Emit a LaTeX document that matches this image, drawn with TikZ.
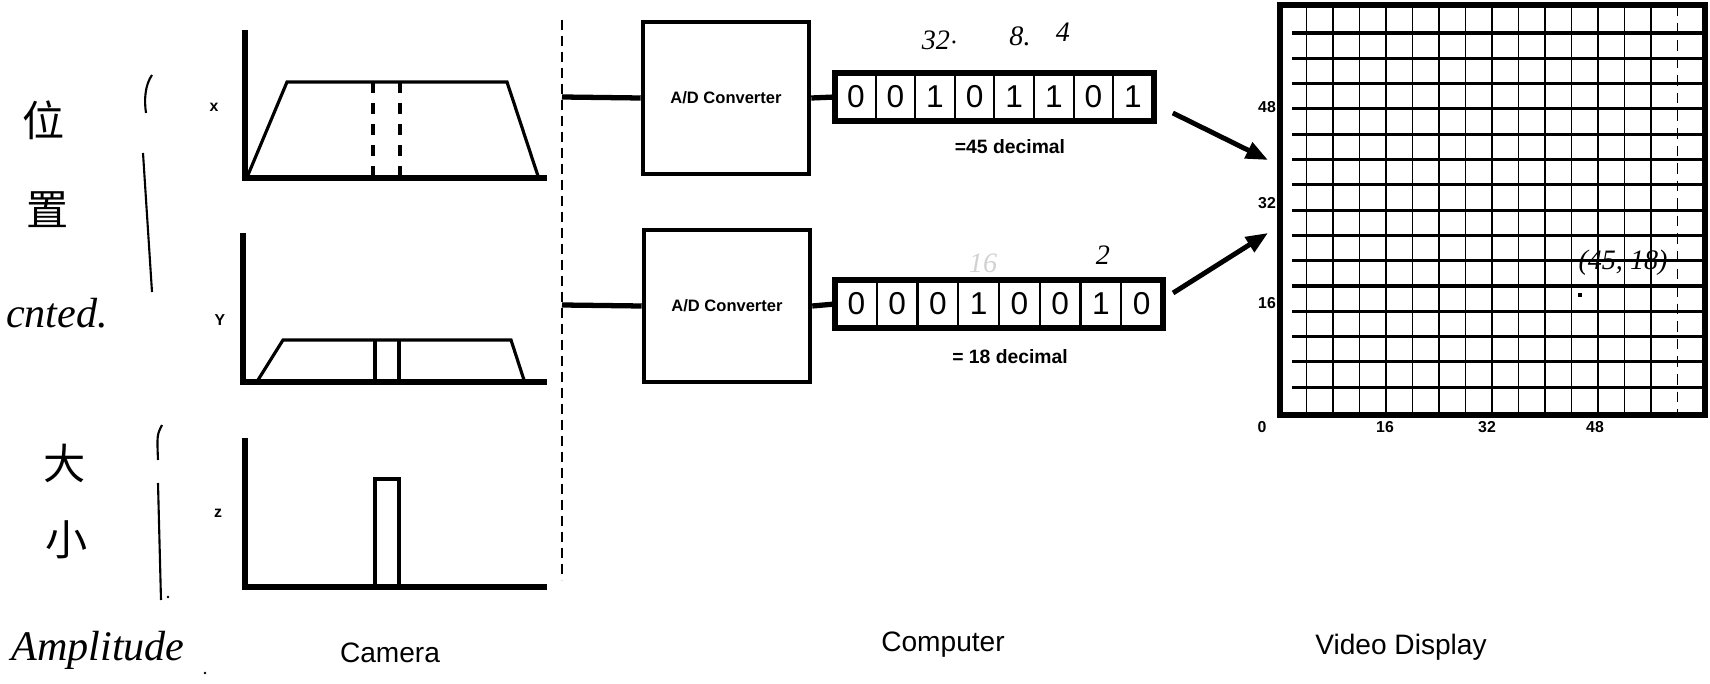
\documentclass[tikz,border=0pt]{standalone}
\usepackage{fontspec}
\setmainfont{Liberation Sans}
\newfontfamily\handfont{Liberation Serif}
\newfontfamily\cjk{Noto Sans CJK SC}
\usetikzlibrary{arrows.meta,positioning,calc}

\tikzset{
  axis/.style={line width=1.5pt},
  trace/.style={line width=0.9pt},
  adbox/.style={draw,line width=1.3pt,minimum width=16.6mm,minimum height=15.2mm,inner sep=0pt,
    font=\bfseries\fontsize{4.7}{5}\selectfont},
  bitcell/.style={draw,line width=0.6pt,minimum height=4.6mm,inner sep=0pt,font=\fontsize{9}{9}\selectfont},
  wire/.style={line width=1.5pt},
  pointer/.style={line width=1.4pt,-{Triangle[length=2.2mm,width=1.7mm]}},
  tick/.style={font=\bfseries\fontsize{4.5}{5}\selectfont,inner sep=0pt},
  decnote/.style={font=\bfseries\fontsize{5.5}{6}\selectfont},
  caption/.style={font=\fontsize{8}{9}\selectfont},
  hand/.style={font=\handfont\itshape\fontsize{12}{12}\selectfont,inner sep=0pt},
  handsmall/.style={font=\handfont\itshape\fontsize{8}{8}\selectfont,inner sep=0pt},
  handzh/.style={font=\cjk\fontsize{12}{12}\selectfont,inner sep=0pt},
}

\begin{document}
\begin{tikzpicture}[x=0.1mm,y=-0.1mm]
  \useasboundingbox (0,0) rectangle (1710,684);
  % camera traces: x, y, z
  \draw[axis] (245,30) -- (245,178) -- (547,178);
  \draw[trace] (248,175) -- (287,82) -- (507,82) -- (538,176);
  \draw[trace,dashed] (373,82) -- (373,177) (400,82) -- (400,177);
  \node[tick] (lx) at (214,107) {x};
  \draw[axis] (243,233) -- (243,382) -- (547,382);
  \draw[trace] (258,380) -- (283,340) -- (511,340) -- (524,380);
  \draw[trace] (375,340) -- (375,381) (399,340) -- (399,381);
  \node[tick] (ly) at (220,320) {Y};
  \draw[axis] (245,438) -- (245,587) -- (547,587);
  \draw[trace] (375,586) rectangle (399,479);
  \node[tick] (lz) at (218,513) {z};
  \node[caption] (cam) at (390,653) {Camera};
  % camera | computer split
  \draw[line width=0.8pt,dash pattern=on 1mm off 0.6mm] (562,20) -- (562,580);
  \coordinate (tap1) at (562,97);
  \coordinate (tap2) at (562,305);
  % converters and registers
  \node[adbox] (ad1) at (726,98) {A/D Converter};
  \node[adbox] (ad2) at (727,306) {A/D Converter};
  \foreach \b [count=\i] in {0,0,1,0,1,1,0,1}
    \node[bitcell,minimum width=3.96mm] (ra\i) at ({836+19.8+39.6*(\i-1)},97) {\b};
  \foreach \b [count=\i] in {0,0,0,1,0,0,1,0}
    \node[bitcell,minimum width=4.07mm] (rb\i) at ({836+20.4+40.75*(\i-1)},304) {\b};
  \draw[line width=1.6pt] (ra1.north west) rectangle (ra8.south east);
  \draw[line width=1.6pt] (rb1.north west) rectangle (rb8.south east);
  \draw[wire] (tap1) -- (ad1.west);
  \draw[wire] (tap2) -- (ad2.west);
  \draw[wire] (ad1.east) -- (ra1.west);
  \draw[wire] (ad2.east) -- (rb1.west);
  \node[decnote] (dec1) at (1010,147) {=45 decimal};
  \node[decnote] (dec2) at (1010,357) {= 18 decimal};
  \node[caption] (comp) at (943,645) {Computer};
  % video display
  \node[draw,line width=1.8pt,minimum width=42.5mm,minimum height=41mm,inner sep=0pt] (disp) at (1492.5,210) {};
  \foreach \k in {1,...,14}
    \draw[line width=0.5pt] ({1280+26.5*\k},5) -- ({1280+26.5*\k},415);
  \draw[line width=0.5pt,densely dashed] (1677.5,5) -- (1677.5,415);
  \foreach \k in {0,...,14}
    \draw[line width=0.9pt] (1292,{33+25.3*\k}) -- (1705,{33+25.3*\k});
  \fill (1578,293) rectangle (1582,297);
  \foreach \v/\yy in {48/107,32/203,16/303}
    \node[tick] (ty\v) at (1267,\yy) {\v};
  \node[tick] (t0) at (1262,427) {0};
  \foreach \v/\xx in {16/1385,32/1487,48/1595}
    \node[tick] (tx\v) at (\xx,427) {\v};
  \node[caption] (vid) at (1401,647) {Video Display};
  \coordinate (hit1) at (1268,160);
  \coordinate (hit2) at (1268,233);
  \draw[pointer] ([shift={(19,16)}]ra8.east) -- (hit1);
  \draw[pointer] ([shift={(10,-11)}]rb8.east) -- (hit2);
  % pencil notes
  \node[handzh] (wei) at (44,120) {位};
  \node[handzh] (zhi) at (48,210) {置};
  \node[hand] (loc) at (57,313) {cnted.};
  \node[handzh] (da) at (65,463) {大};
  \node[handzh] (xiao) at (67,540) {小};
  \node[hand] (amp) at (98,650) {Amplitude};
  \fill (205,673) circle (1.3);
  \draw[line width=0.6pt] (152,75) .. controls (145,85) and (144,100) .. (146,113);
  \draw[line width=0.6pt] (143,153) -- (152,292);
  \draw[line width=0.6pt] (162,425) .. controls (157,435) .. (158,460);
  \draw[line width=0.6pt] (158,483) -- (161,600);
  \fill (168,597) circle (1.3);
  \node[handsmall] (b32) at (940,40) {32$\cdot$};
  \node[handsmall] (b8) at (1020,36) {8.};
  \node[handsmall] (b4) at (1063,32) {4};
  \node[handsmall,gray!35] (b16) at (983,263) {16};
  \node[handsmall] (b2) at (1103,255) {2};
  \node[handsmall] (pt) at (1623,263) {(45, 18)};
\end{tikzpicture}
\end{document}
